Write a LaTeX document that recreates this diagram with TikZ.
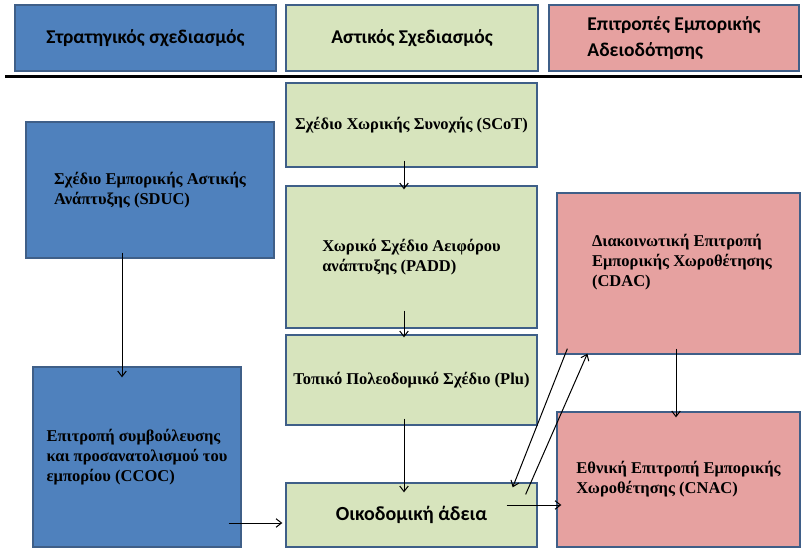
\documentclass[tikz,border=0pt]{standalone}
\usepackage{fontspec}
\setmainfont{Liberation Serif}
\newfontfamily\headfont{Carlito}
\usepackage{tikz}
\usetikzlibrary{positioning}
\usetikzlibrary{arrows.meta}
\definecolor{boxblue}{HTML}{4F81BD}
\definecolor{boxgreen}{HTML}{D7E4BD}
\definecolor{boxpink}{HTML}{E6A1A0}
\definecolor{boxline}{HTML}{3F5F88}

\begin{document}
\begin{tikzpicture}[x=1pt,y=-1pt,
						box/.style={draw=boxline, line width=1.3pt, inner sep=0pt},
						bluebox/.style={box, fill=boxblue},
						greenbox/.style={box, fill=boxgreen},
						pinkbox/.style={box, fill=boxpink},
						headtext/.style={font=\headfont\bfseries\fontsize{19.5}{26}\selectfont, align=left},
						bodytext/.style={font=\bfseries\fontsize{16.5}{20}\selectfont, align=left},
						arrow/.style={-{Straight Barb[length=5.5pt,width=8.5pt]}, line width=1pt},
						]
						\useasboundingbox (0,0) rectangle (802,548);
						%Header
						\node[bluebox, headtext, minimum width=261, minimum height=66]  (hstrat) 	at	(145.5,38) 	{Στρατηγικός σχεδιασμός};
						\node[greenbox, headtext, minimum width=252, minimum height=66] (hurban) 	at	(412,38) 	{Αστικός Σχεδιασμός};
						\node[pinkbox, headtext, minimum width=250, minimum height=66]  (hlicense) 	at	(674,38) 	{Επιτροπές Εμπορικής\\Αδειοδότησης};
						\coordinate (ruleL) at (5,77);
						\coordinate (ruleR) at (802,77);
						\draw[line width=3pt] (ruleL) -- (ruleR);

						%Nodes
						\node[bluebox, bodytext, minimum width=248, minimum height=136]  (sduc) 	at 	(150,190)       {Σχέδιο Εμπορικής Αστικής\\Ανάπτυξης (SDUC)};
						\node[bluebox, bodytext, minimum width=208, minimum height=180]  (ccoc) 	at 	(137,457)       {Επιτροπή συμβούλευσης\\και προσανατολισμού του\\εμπορίου (CCOC)};
						\node[greenbox, bodytext, minimum width=251, minimum height=84]  (scot) 	at 	(411.5,125)     {Σχέδιο Χωρικής Συνοχής (SCoT)};
						\node[greenbox, bodytext, minimum width=251, minimum height=142] (padd) 	at 	(411.5,257)     {Χωρικό Σχέδιο Αειφόρου\\ανάπτυξης (PADD)};
						\node[greenbox, bodytext, minimum width=251, minimum height=90]  (plu) 	at 	(411.5,380)     {Τοπικό Πολεοδομικό Σχέδιο (Plu)};
						\node[greenbox, headtext, font=\headfont\bfseries\fontsize{20}{24}\selectfont, minimum width=251, minimum height=64]  (permit) 	at 	(411.5,515)   {Οικοδομική άδεια};
						\node[pinkbox, minimum width=243, minimum height=161]            (cdac) 	at 	(678.5,273.5)   {};
						\node[bodytext]                                                  (cdactext) at 	(682,262)       {Διακοινωτική Επιτροπή\\Εμπορικής Χωροθέτησης\\(CDAC)};
						\node[pinkbox, bodytext, minimum width=243, minimum height=135]  (cnac) 	at 	(678.5,479.5)   {Εθνική Επιτροπή Εμπορικής\\Χωροθέτησης (CNAC)};

						%Lines
						\draw[arrow] ([xshift=-28pt,yshift=6pt]sduc.south) -- ([xshift=-15pt,yshift=-11pt]ccoc.north);
						\draw[arrow] ([xshift=-13pt,yshift=-66pt]ccoc.east) -- ([xshift=-3pt,yshift=-8pt]permit.west);

						\draw[arrow] ([xshift=-7.5pt,yshift=7pt]scot.south) -- ([xshift=-7.5pt,yshift=-4pt]padd.north);
						\draw[arrow] ([xshift=-7.5pt,yshift=18pt]padd.south) -- ([xshift=-7.5pt,yshift=-3pt]plu.north);
						\draw[arrow] ([xshift=-7.5pt,yshift=7pt]plu.south) -- ([xshift=-7.5pt,yshift=-10pt]permit.north);

						\draw[arrow] ([xshift=-31pt,yshift=10pt]permit.east) -- ([xshift=5pt,yshift=-25.5pt]cnac.west);
						\draw[arrow] ([xshift=11pt,yshift=6pt]cdac.south west) -- ([xshift=-25pt,yshift=-5pt]permit.north east);
						\draw[arrow] ([xshift=-12pt,yshift=-12pt]permit.north east) -- ([xshift=31pt,yshift=1pt]cdac.south west);
						\draw[arrow] ([xshift=-2.5pt,yshift=6pt]cdac.south) -- ([xshift=-2.5pt,yshift=-6pt]cnac.north);
					\end{tikzpicture}
\end{document}
